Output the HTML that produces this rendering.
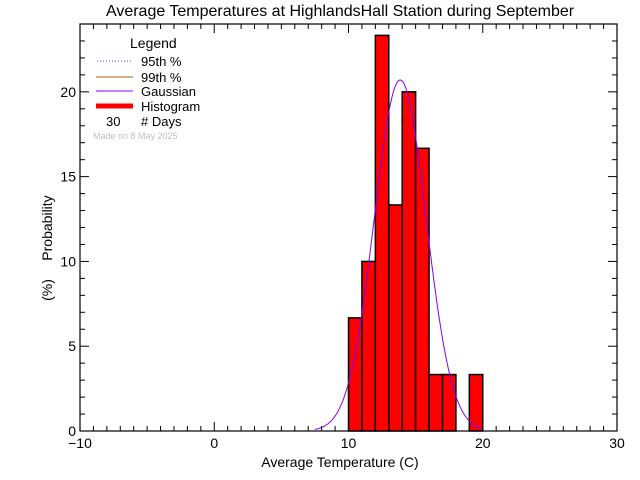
<!DOCTYPE html>
<html><head><meta charset="utf-8"><style>
body{margin:0;background:#fff;}
svg{display:block;font-family:"Liberation Sans",sans-serif;}
</style></head><body>
<svg id="chart" width="640" height="480">
<rect width="640" height="480" fill="#fff"/>
<text x="340" y="16" font-size="16" text-anchor="middle">Average Temperatures at HighlandsHall Station during September</text>
<g id="bars"></g>
<g id="gauss"></g>
<g id="axes"></g>
<text x="340" y="467" font-size="14" text-anchor="middle">Average Temperature (C)</text>
<text transform="translate(52,228) rotate(-90)" font-size="14" text-anchor="middle">Probability</text>
<text transform="translate(52,290) rotate(-90)" font-size="14" text-anchor="middle">(%)</text>
<g font-size="13">
<text x="130" y="48" font-size="14">Legend</text>
<line x1="97" y1="61" x2="133" y2="61" stroke="#3060a0" stroke-dasharray="1,2"/>
<text x="141" y="66">95th %</text>
<line x1="96" y1="77" x2="133" y2="77" stroke="#b06010"/>
<text x="141" y="82">99th %</text>
<line x1="96" y1="91" x2="133" y2="91" stroke="#8000ff"/>
<text x="141" y="96">Gaussian</text>
<line x1="96" y1="106" x2="133" y2="106" stroke="#f00" stroke-width="5"/>
<text x="141" y="111">Histogram</text>
<text x="106" y="126">30</text>
<text x="141" y="126"># Days</text>
<text x="93" y="139" font-size="9" fill="#c0c0c0">Made on 8 May 2025</text>
</g>
</svg>
<script>
const binStarts=[10,11,12,13,14,15,16,17,19];
const binValues=[6.67,10,23.33,13.33,20,16.67,3.33,3.33,3.33];
const xTicks=[-10,0,10,20,30];
const yTicks=[0,5,10,15,20];
const gaussMean=13.85, gaussSigma=1.93, gaussPeak=20.7;
const X0=80,X1=617,Y0=431,Y1=24,xmin=-10,xmax=30,ymin=0,ymax=24;
const sx=v=>X0+(v-xmin)/(xmax-xmin)*(X1-X0);
const sy=v=>Y0-(v-ymin)/(ymax-ymin)*(Y0-Y1);
const NS="http://www.w3.org/2000/svg";
function mk(tag,attrs,parent){const e=document.createElementNS(NS,tag);for(const k in attrs)e.setAttribute(k,attrs[k]);parent.appendChild(e);return e;}
const bars=document.getElementById('bars');
binStarts.forEach((b,i)=>{
 const r=mk('rect',{x:sx(b),y:sy(binValues[i]),width:sx(b+1)-sx(b),height:Y0-sy(binValues[i]),fill:'#f00',stroke:'#000','stroke-width':1.5},bars);
 
 
});
const g=document.getElementById('gauss');
let d='';
for(let t=7.5;t<=20;t+=0.05){const v=gaussPeak*Math.exp(-0.5*((t-gaussMean)/gaussSigma)**2);d+=(d?'L':'M')+sx(t).toFixed(1)+','+sy(v).toFixed(1);}
const p=mk('path',{d:d,fill:'none',stroke:'#8000ff','stroke-width':1},g);


const ax=document.getElementById('axes');
const fr=mk('rect',{x:X0,y:Y1,width:X1-X0,height:Y0-Y1,fill:'none',stroke:'#000','stroke-width':1.2},ax);


for(let v=xmin;v<=xmax;v++){const L=(v%10===0)?9:5;const x=sx(v);
 mk('line',{x1:x,y1:Y0,x2:x,y2:Y0-L,stroke:'#000'},ax);mk('line',{x1:x,y1:Y1,x2:x,y2:Y1+L,stroke:'#000'},ax);}
for(let v=ymin;v<=ymax;v++){const L=(v%5===0)?9:5;const y=sy(v);
 mk('line',{x1:X0,y1:y,x2:X0+L,y2:y,stroke:'#000'},ax);mk('line',{x1:X1,y1:y,x2:X1-L,y2:y,stroke:'#000'},ax);}
xTicks.forEach(v=>{const t=mk('text',{x:sx(v),y:Y0+17,'font-size':14,'text-anchor':'middle'},ax);t.textContent=(v<0?'\u2212':'')+Math.abs(v);
 
 });
yTicks.forEach(v=>{const t=mk('text',{x:X0-4,y:sy(v)+5,'font-size':14,'text-anchor':'end'},ax);t.textContent=v;
 
 });
</script>
</body></html>
